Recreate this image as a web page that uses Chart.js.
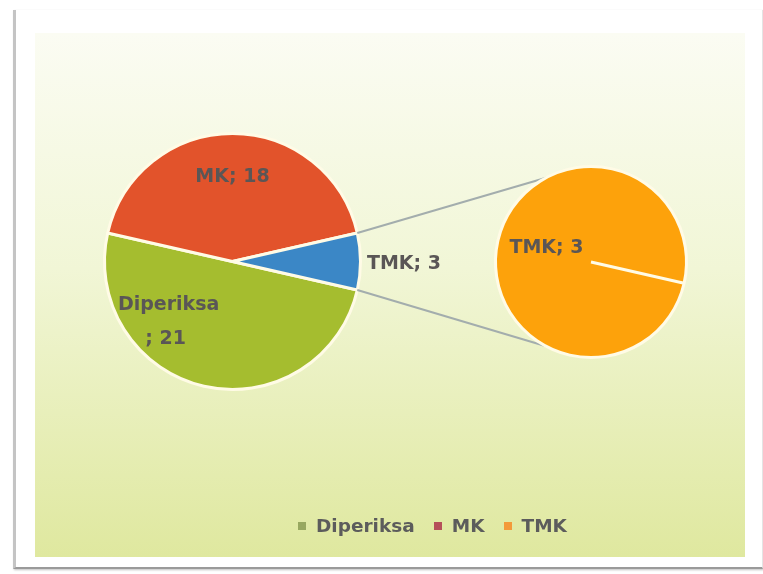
<!DOCTYPE html>
<html>
<head>
<meta charset="utf-8">
<script src="https://cdn.jsdelivr.net/npm/chart.js@4/dist/chart.umd.min.js"></script>
<style>
  body { margin: 0; background: #fff; width: 763px; height: 574px; overflow: hidden; font-family: "DejaVu Sans", sans-serif; }
  #frame { position: absolute; left: 13px; top: 10px; width: 746px; height: 557px; background: #fff;
           border-left: 3px solid #c4c4c4; border-bottom: 2px solid #9a9a9a; border-right: 1px solid #e4e4e4;
           box-shadow: 1px 1px 2px rgba(0,0,0,0.25); }
  #plot { position: absolute; left: 35px; top: 33px; width: 710px; height: 524px;
          background: linear-gradient(to bottom, #fbfcf3 0%, #f1f6d6 45%, #dfe89f 100%); }
  #plot canvas { position: absolute; left: 0; top: 0; }
  #legend { position: absolute; left: 298px; top: 515px; display: flex; align-items: center;
            font: bold 18.5px "DejaVu Sans", sans-serif; color: #5c5c5c; }
  #legend span.box { display: inline-block; width: 8px; height: 8px; margin: 1px 10px 0 0; }
  #legend span.item { display: flex; align-items: center; margin-right: 19px; }
</style>
</head>
<body>
<div id="frame"></div>
<div id="plot">
  <canvas id="mainPie" width="710" height="524"></canvas>
  <canvas id="detailPie" width="710" height="524"></canvas>
</div>
<div id="legend"></div>
<script>
// main pie
const categories = ["Diperiksa", "MK", "TMK"];
const values = [21, 18, 3];
const colors = ["#a5bd2f", "#e2532b", "#3b87c6"];
// second pie (breakdown of TMK)
const detailCategories = ["TMK"];
const detailValues = [3];
const detailColors = ["#fda20b"];
// legend squares
const legendColors = ["#98a860", "#b5505a", "#f39a3a"];

const total = values.reduce((a, b) => a + b, 0);
const split = values[2];
// the split-off slice sits centred on the right side
const rotation = 90 + (split / total) * 180;

const labelFont = "bold 19px 'DejaVu Sans', sans-serif";
const labelColor = "#5a5656";

// draws "name; value" labels around the arc centres
const pieLabels = {
  id: "pieLabels",
  afterDatasetsDraw(chart, args, opts) {
    const ctx = chart.ctx;
    const meta = chart.getDatasetMeta(0);
    const data = chart.data.datasets[0].data;
    ctx.save();
    ctx.font = labelFont;
    ctx.fillStyle = labelColor;
    ctx.textAlign = "center";
    ctx.textBaseline = "middle";
    meta.data.forEach((arc, i) => {
      const p = opts.place[i];
      const mid = (arc.startAngle + arc.endAngle) / 2 + p.turn * Math.PI / 180;
      const r = arc.outerRadius * p.dist;
      const x = arc.x + Math.cos(mid) * r;
      const y = arc.y + Math.sin(mid) * r;
      const name = chart.data.labels[i];
      if (p.wrap) {
        ctx.fillText(name, x, y - 17);
        ctx.fillText("; " + data[i], x - 3, y + 17);
      } else {
        ctx.fillText(name + "; " + data[i], x, y);
      }
    });
    ctx.restore();
  }
};

let mainChart = null;

// grey lines joining the split slice to the second pie
const connectors = {
  id: "connectors",
  beforeDatasetsDraw(chart) {
    if (!mainChart) return;
    const src = mainChart.getDatasetMeta(0).data[2];
    const dst = chart.getDatasetMeta(0).data[0];
    const ctx = chart.ctx;
    const a = 118 * Math.PI / 180;
    ctx.save();
    ctx.strokeStyle = "#a3adad";
    ctx.lineWidth = 2;
    ctx.beginPath();
    ctx.moveTo(src.x + Math.cos(src.startAngle) * src.outerRadius, src.y + Math.sin(src.startAngle) * src.outerRadius);
    ctx.lineTo(dst.x + Math.cos(-a) * dst.outerRadius, dst.y + Math.sin(-a) * dst.outerRadius);
    ctx.moveTo(src.x + Math.cos(src.endAngle) * src.outerRadius, src.y + Math.sin(src.endAngle) * src.outerRadius);
    ctx.lineTo(dst.x + Math.cos(a) * dst.outerRadius, dst.y + Math.sin(a) * dst.outerRadius);
    ctx.stroke();
    ctx.restore();
  }
};

const baseOptions = {
  responsive: false,
  animation: false,
  rotation: rotation,
  plugins: { legend: { display: false }, tooltip: { enabled: false } },
  events: []
};

mainChart = new Chart(document.getElementById("mainPie"), {
  type: "pie",
  data: {
    labels: categories,
    datasets: [{ data: values, backgroundColor: colors, borderColor: "#fffbe6", borderWidth: 3, hoverOffset: 0 }]
  },
  options: {
    ...baseOptions,
    layout: { padding: { left: 68, top: 99, right: 383, bottom: 166 } },
    plugins: {
      ...baseOptions.plugins,
      pieLabels: { place: [
        { dist: 0.69, turn: 33.5, wrap: true },
        { dist: 0.66, turn: 0 },
        { dist: 1.34, turn: 1 }
      ] }
    }
  },
  plugins: [pieLabels]
});

new Chart(document.getElementById("detailPie"), {
  type: "pie",
  data: {
    labels: detailCategories,
    datasets: [{ data: detailValues, backgroundColor: detailColors, borderColor: "#fffbe6", borderWidth: 3, hoverOffset: 0 }]
  },
  options: {
    ...baseOptions,
    layout: { padding: { left: 459, top: 132, right: 57, bottom: 198 } },
    plugins: {
      ...baseOptions.plugins,
      pieLabels: { place: [{ dist: 0.49, turn: 5 }] }
    }
  },
  plugins: [connectors, pieLabels]
});

// legend
const legend = document.getElementById("legend");
categories.forEach((name, i) => {
  const item = document.createElement("span");
  item.className = "item";
  const box = document.createElement("span");
  box.className = "box";
  box.style.background = legendColors[i];
  item.appendChild(box);
  item.appendChild(document.createTextNode(name));
  legend.appendChild(item);
});
</script>
</body>
</html>
